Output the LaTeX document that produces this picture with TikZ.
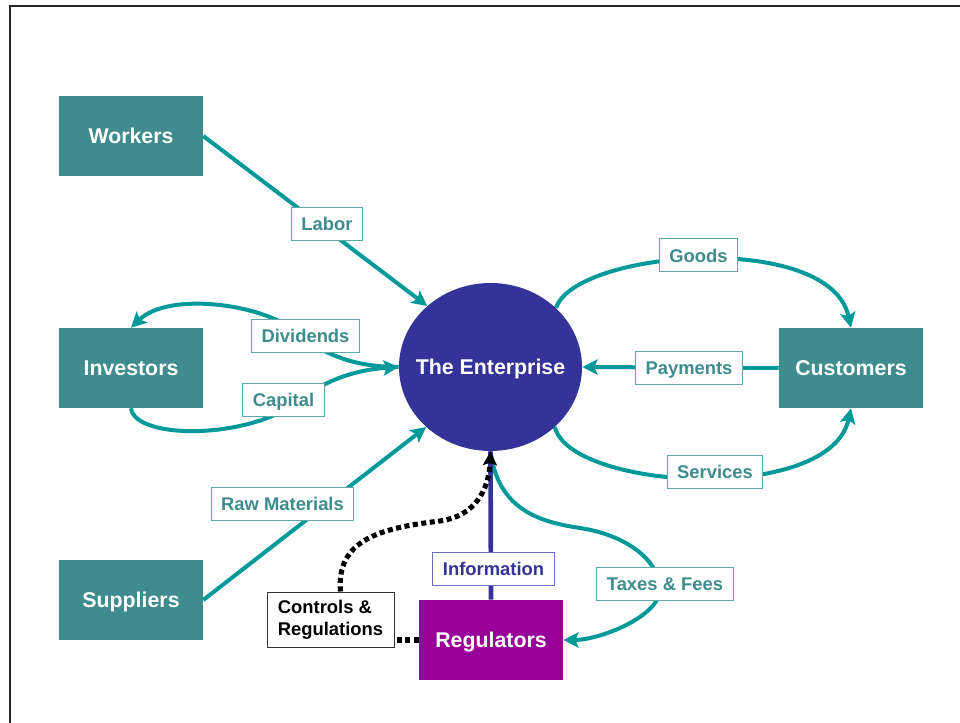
\documentclass[tikz,border=0pt]{standalone}
\usepackage{fontspec}
\setmainfont{Liberation Sans}
\usetikzlibrary{arrows.meta,shapes.geometric}
\definecolor{boxteal}{RGB}{62,140,142}
\definecolor{flowteal}{RGB}{0,153,153}
\definecolor{labelteal}{RGB}{62,140,142}
\definecolor{labeledge}{RGB}{95,168,168}
\definecolor{entblue}{RGB}{51,51,153}
\definecolor{infoedge}{RGB}{110,110,190}
\definecolor{regpurple}{RGB}{153,0,153}
\pgfdeclarelayer{background}
\pgfsetlayers{background,main}

\begin{document}
\begin{tikzpicture}[x=0.75pt,y=-0.75pt,
  party/.style={rectangle, fill=boxteal, text=white, minimum width=108pt,
    minimum height=60pt, inner sep=0pt, text height=11.5pt, text depth=0pt,
    font=\fontsize{16}{19}\selectfont\bfseries},
  flowlabel/.style={rectangle, draw=labeledge, line width=0.75pt, fill=white,
    text=labelteal, font=\fontsize{13.8}{16.5}\selectfont\bfseries,
    minimum height=24.75pt, inner xsep=7.5pt, inner ysep=0pt},
  oneline/.style={text height=9.9pt, text depth=0pt},
  flow/.style={draw=flowteal, line width=3pt,
    -{Stealth[length=11.5pt,width=11.5pt,inset=2.5pt]}},
  infoline/.style={draw=entblue, line width=3.5pt},
  ctrlline/.style={draw=black, line width=3.8pt, dash pattern=on 3.8pt off 2.6pt,
    -{Stealth[length=10.5pt,width=10.5pt,inset=2pt]}},
  ctrlplain/.style={draw=black, line width=3.8pt, dash pattern=on 3.8pt off 2.6pt},
]
\useasboundingbox (0,0) rectangle (960,723);

% page frame
\draw[line width=1.5pt, black!85] (10,723) -- (10,6) -- (960,6);

% parties
\node[party] (work) at (131,136) {Workers};
\node[party] (invest) at (131,368) {Investors};
\node[party] (supp) at (131,600) {Suppliers};
\node[party] (cust) at (851,368) {Customers};
\node[party, fill=regpurple] (reg) at (491,640) {Regulators};
\node[ellipse, fill=entblue, text=white, minimum width=137.25pt, minimum height=126pt,
  inner sep=0pt, font=\fontsize{16}{19}\selectfont\bfseries] (ent) at (490.5,367)
  {\raisebox{-5.75pt}[0pt][0pt]{\makebox[0pt]{The Enterprise}}};

% flow labels
\node[flowlabel, oneline] (labor) at (327,224) {Labor};
\node[flowlabel, oneline] (divid) at (305.5,336) {Dividends};
\node[flowlabel, oneline] (capit) at (283.5,400) {Capital};
\node[flowlabel, oneline] (rawm) at (282.5,503.5) {Raw Materials};
\node[flowlabel, oneline] (goods) at (698.5,255.5) {Goods};
\node[flowlabel, oneline] (paym) at (689,368) {Payments};
\node[flowlabel, oneline] (serv) at (715,472) {Services};
\node[flowlabel, oneline] (taxes) at (665,583.5) {Taxes \& Fees};
\node[flowlabel, oneline, draw=infoedge, text=entblue] (info) at (493.5,568.5) {Information};
\node[flowlabel, draw=black!80, text=black, align=left, minimum width=95.25pt,
  minimum height=41.25pt] (ctrl) at (330.5,619.5) {Controls \&\\Regulations};

% connectors
\begin{pgfonlayer}{background}
  \draw[flow] (work.east) -- (ent.136);
  \draw[flow] (supp.east) -- (ent.223);
  \draw[flow] (cust.west) -- (ent.east);
  \draw[flow] (ent.west) .. controls (355,367) and (325,355) .. (300,335)
    .. controls (270,305) and (170,290) .. (invest.north);
  \draw[flow] (invest.south) .. controls (135,440) and (250,440) .. (300,400)
    .. controls (320,384) and (350,370) .. (ent.west);
  \draw[flow] (ent.42) .. controls (575,250) and (830,230) .. (cust.north);
  \draw[flow] (ent.-43) .. controls (570,490) and (830,505) .. (cust.south);
  \draw[flow] (ent.south) .. controls (498,510) and (540,522) .. (580,528)
    .. controls (620,534) and (655,555) .. (660,585)
    .. controls (665,615) and (600,640) .. (reg.east);
  \draw[infoline] (reg.north) -- (ent.south);
  \draw[ctrlplain] (reg.west) -- (reg.west -| ctrl.east);
  \draw[ctrlline] ([xshift=7.5pt]ctrl.north) .. controls (336,540) and (380,528) .. (440,521)
    .. controls (475,516) and (489,490) .. (ent.south);
\end{pgfonlayer}
\end{tikzpicture}
\end{document}
